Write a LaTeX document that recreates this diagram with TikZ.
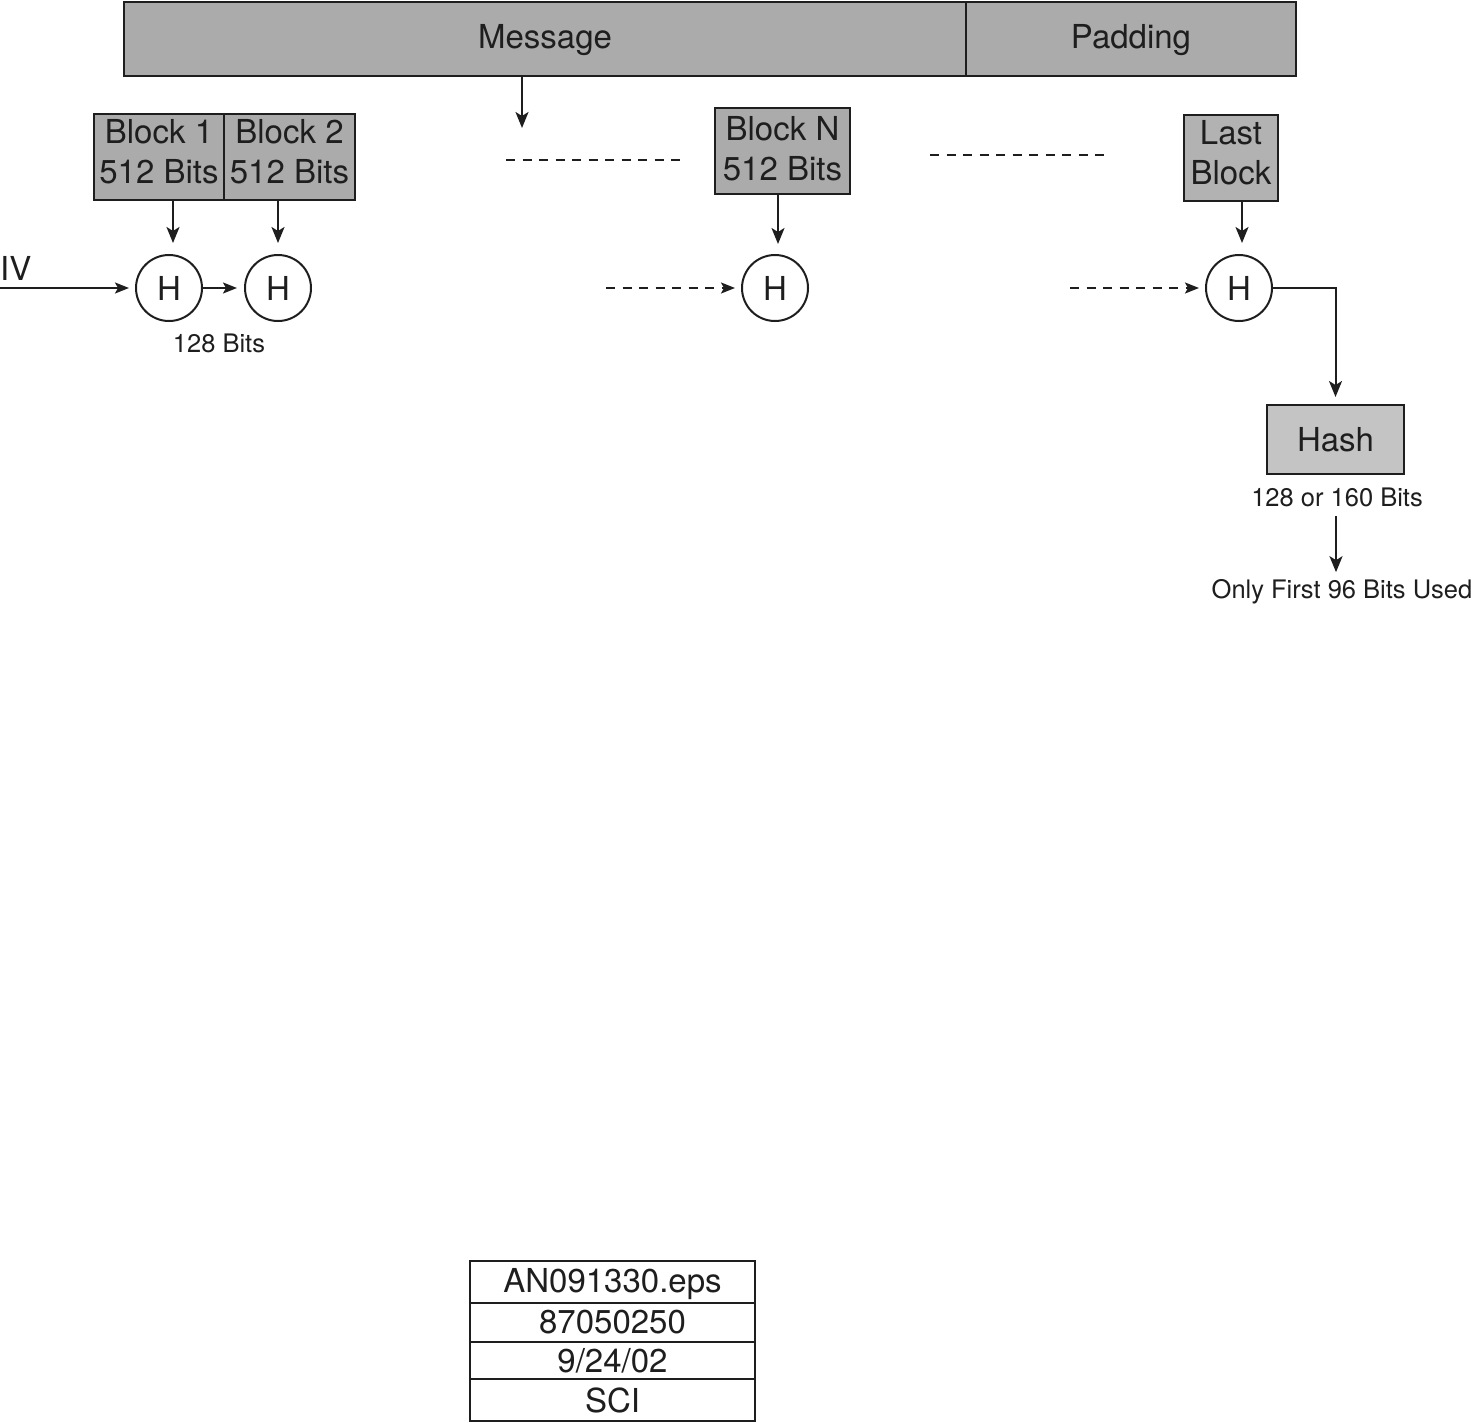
\documentclass[tikz,border=0pt]{standalone}
\usepackage{fontspec}
\setmainfont{TeX Gyre Heros}
\usetikzlibrary{arrows.meta}
\definecolor{boxgray}{HTML}{ABABAB}
\definecolor{lastgray}{HTML}{B2B2B2}
\definecolor{hashgray}{HTML}{C4C4C4}
\definecolor{ink}{HTML}{1E1E1E}
\tikzset{
  big/.style={font=\fontsize{33}{40}\selectfont},
  small/.style={font=\fontsize{25.5}{30}\selectfont},
  graybox/.style={draw=ink, line width=2pt, fill=boxgray, inner sep=0pt, big, align=center, text=ink},
  hcircle/.style={draw=ink, line width=2pt, circle, minimum size=66pt, inner sep=0pt, big, text=ink},
  cell/.style={draw=ink, line width=2pt, minimum width=285pt, inner sep=0pt, big, text=ink},
  conn/.style={draw=ink, line width=2pt, -{Stealth[length=16pt,width=13pt,inset=4pt]}},
  sconn/.style={draw=ink, line width=2pt, -{Stealth[length=14pt,width=11pt,inset=3pt]}},
  dline/.style={draw=ink, line width=2pt, dash pattern=on 9pt off 7.5pt},
}
\begin{document}
\begin{tikzpicture}[x=1pt,y=-1pt]
\useasboundingbox (0,0) rectangle (1471,1422);
% top bar
\node[graybox, minimum width=842pt, minimum height=74pt, text height=26pt, text depth=7pt] (msg) at (545,39) {Message};
\node[graybox, minimum width=330pt, minimum height=74pt, text height=26pt, text depth=7pt] (pad) at (1131,39) {Padding};
% blocks
\node[graybox, minimum width=130pt, minimum height=86pt, text depth=12pt] (b1) at (159,157) {Block 1\\512 Bits};
\node[graybox, minimum width=131pt, minimum height=86pt, text depth=12pt] (b2) at (289.5,157) {Block 2\\512 Bits};
\node[graybox, minimum width=135pt, minimum height=86pt, text depth=6pt] (bn) at (782.5,151) {Block N\\512 Bits};
\node[graybox, fill=lastgray, minimum width=94pt, minimum height=86pt, text depth=12pt] (bl) at (1231,158) {Last\\Block};
% H circles
\node[hcircle] (h1) at (169,288) {H};
\node[hcircle] (h2) at (278,288) {H};
\node[hcircle] (hn) at (775,288) {H};
\node[hcircle] (hl) at (1239,288) {H};
% hash
\node[graybox, fill=hashgray, minimum width=137pt, minimum height=69pt] (hash) at (1335.5,439.5) {Hash};
% labels
\node[big, anchor=west, inner sep=0pt, text=ink] (iv) at (0,268) {IV};
\node[small, text=ink] (bits1) at (219,343) {128 Bits};
\node[small, text=ink] (bits2) at (1337,497) {128 or 160 Bits};
\node[small, text=ink] (used) at (1342,592) {Only First 96 Bits Used};
% coordinates
\coordinate (m1) at (522,128);
\coordinate (ivs) at (0,288);
\coordinate (da1) at (506,160);
\coordinate (da2) at (682,160);
\coordinate (db1) at (930,155);
\coordinate (db2) at (1105,155);
\coordinate (dn) at (606,288);
\coordinate (dl) at (1070,288);
% connectors
\draw[conn] (msg.south -| m1) -- (m1);
\draw[conn, shorten >=12pt] (b1.south -| 173,0) -- (173,255);
\draw[conn, shorten >=11pt] (b2.south -| h2) -- (h2.north);
\draw[conn, shorten >=11pt] (bn.south -| 778,0) -- (778,255);
\draw[conn, shorten >=12pt] (bl.south -| 1242,0) -- (1242,255);
\draw[sconn, shorten >=6pt] (ivs) -- (h1.west);
\draw[sconn, shorten >=7pt] (h1.east) -- (h2.west);
\draw[dline] (da1) -- (da2);
\draw[dline] (db1) -- (db2);
\draw[dline, -{Stealth[length=14pt,width=11pt,inset=3pt]}, shorten >=6pt] (dn) -- (hn.west);
\draw[dline, -{Stealth[length=14pt,width=11pt,inset=3pt]}, shorten >=6pt] (dl) -- (hl.west);
\draw[conn, shorten >=7pt] (hl.east) -| (hash.north);
\draw[conn, shorten <=6pt, shorten >=4pt] (bits2.south -| used) ++(-6,0) -- ([xshift=-6pt]used.north);
% table
\node[cell, minimum height=42pt, text height=27pt, text depth=7pt] (t1) at (612.5,1282) {AN091330.eps};
\node[cell, minimum height=39pt] (t2) at (612.5,1322.5) {87050250};
\node[cell, minimum height=37pt] (t3) at (612.5,1360.5) {9/24/02};
\node[cell, minimum height=42pt] (t4) at (612.5,1400) {SCI};
\end{tikzpicture}
\end{document}
